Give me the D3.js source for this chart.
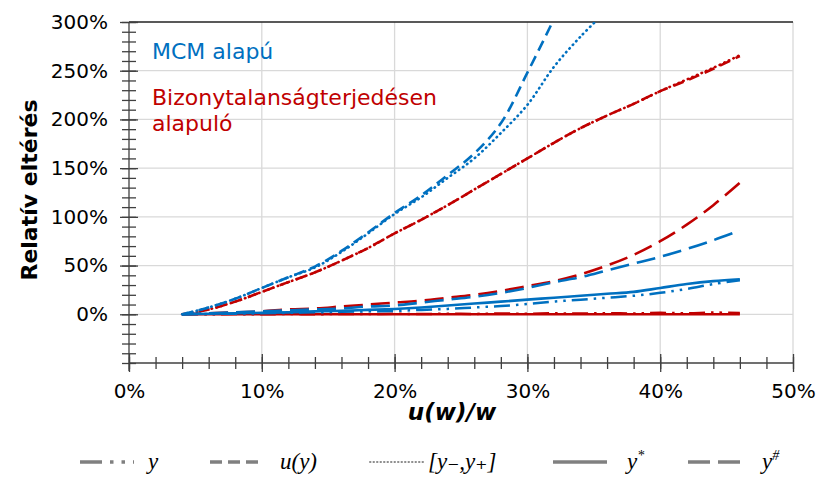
<!DOCTYPE html>
<html>
<head>
<meta charset="utf-8">
<title>Relatív eltérés</title>
<script src="https://cdn.jsdelivr.net/npm/d3@7"></script>
<style>
  body { margin: 0; background: #fff; }
  text { font-family: "DejaVu Sans", Verdana, sans-serif; }
  .tick text { font-size: 20px; fill: #000; }
  .math { font-family: "Liberation Serif", "DejaVu Serif", serif; font-style: italic; font-size: 23px; }
</style>
</head>
<body>
<script>
// u(w)/w in percent
var uw = [4,6,8,10,12,14,16,18,20,22,24,26,28,30,32,34,36,38,40,42,44,46];

// MCM alapú (blue)
var mcmY    = [0,0.3,0.6,1,1.5,2,2.5,3,3.5,4.5,5.5,7,8.5,10.5,13,15,17,19,22,26,31,35];
var mcmU    = [0,7,16,27,38,49,65,84,104,122,143,165,196,248,303];
var mcmInt  = [0,7,16,27,38,48,64,83,103,120,140,160,186,215,254,285,312];
var mcmStar = [0,0.5,1,1.5,2,3,3.5,4.5,5.5,7,9,11,13,15,17,19,21,23,27,31,34,36];
var mcmHash = [0,1,2,3,4,5,6,8,9,12,15,18,22,27,33,38,45,52,59,67,76,86];

// Bizonytalanságterjedésen alapuló (red)
var propY    = [0,0,0.2,0,0.3,0,0.4,0.2,0.5,0.3,0.6,0.4,0.8,0.5,1,0.7,1.2,0.9,1.5,1,1.8,1.2];
var propU    = [0,5,13,23,33,43,55,68,83,97,112,128,144,160,176,191,204,216,229,240,252,265];
var propInt  = [0,5,13,23,33,43,55,68,83,97,112,128,144,160,176,191,204,216,229,241,253,266];
var propStar = [0,0,0,0,0,0,0,0,0,0,0,0,0,0,0,0,0,0,0,0,0,0];
var propHash = [0,1,2,3,5,6,8,10,12,14,17,20,24,29,34,41,50,61,75,92,112,135];

var xTicks = [0,10,20,30,40,50];
var yTicks = [0,50,100,150,200,250,300];

var width = 820, height = 484;
var blue = "#0070c0", red = "#c00000";

var svg = d3.select("body").append("svg")
    .attr("width", width)
    .attr("height", height);

var x = d3.scaleLinear().domain([0,50]).range([129,793]);
var y = d3.scaleLinear().domain([-50,300]).range([363,22]);

// grid
svg.append("g").selectAll("line").data(xTicks.slice(1))
  .enter().append("line")
    .attr("x1", d => x(d)).attr("x2", d => x(d))
    .attr("y1", y(300)).attr("y2", y(-50))
    .attr("stroke", "#d9d9d9").attr("stroke-width", 1.3);
svg.append("g").selectAll("line").data(yTicks.slice(0,-1))
  .enter().append("line")
    .attr("x1", x(0)).attr("x2", x(50))
    .attr("y1", d => y(d)).attr("y2", d => y(d))
    .attr("stroke", "#d9d9d9").attr("stroke-width", 1.3);
// top border
svg.append("line")
    .attr("x1", x(0)).attr("x2", x(50))
    .attr("y1", y(300)).attr("y2", y(300))
    .attr("stroke", "#222").attr("stroke-width", 1.3);

// y axis
var yAxis = svg.append("g")
    .attr("transform", "translate(" + x(0) + ",0)")
    .call(d3.axisLeft(y).tickValues(yTicks).tickFormat(d => d + "%").tickSize(9).tickPadding(12));
yAxis.selectAll(".tick line").attr("x2", -9).attr("x1", 9);
svg.append("g")
    .attr("transform", "translate(" + x(0) + ",0)")
    .call(d3.axisLeft(y).tickValues(d3.range(-50, 301, 10)).tickFormat("").tickSize(7))
    .call(g => g.selectAll(".tick line").attr("x2", -7).attr("x1", 7))
    .call(g => g.select(".domain").remove());
yAxis.select(".domain").attr("d", "M0," + y(300) + "V" + (y(-50) + 8));

// x axis
var xAxis = svg.append("g")
    .attr("transform", "translate(0," + y(-50) + ")")
    .call(d3.axisBottom(x).tickValues(xTicks).tickFormat(d => d + "%").tickSize(9).tickPadding(12));
xAxis.selectAll(".tick line").attr("y1", -9).attr("y2", 9);
svg.append("g")
    .attr("transform", "translate(0," + y(-50) + ")")
    .call(d3.axisBottom(x).tickValues(d3.range(0, 51, 2)).tickFormat("").tickSize(6))
    .call(g => g.selectAll(".tick line").attr("y1", -6).attr("y2", 6))
    .call(g => g.select(".domain").remove());
xAxis.select(".domain").attr("d", "M" + x(0) + ",0H" + x(50));

svg.selectAll(".domain, .tick line").attr("stroke", "#404040").attr("stroke-width", 1.3);

// titles
svg.append("text")
    .attr("transform", "translate(37,190) rotate(-90)")
    .attr("text-anchor", "middle")
    .attr("font-weight", "bold").attr("font-size", 22)
    .text("Relatív eltérés");
svg.append("text")
    .attr("x", 452).attr("y", 420)
    .attr("text-anchor", "middle")
    .attr("font-weight", "bold").attr("font-style", "italic").attr("font-size", 23)
    .text("u(w)/w");

// annotations
svg.append("text").attr("x", 152).attr("y", 59)
    .attr("fill", blue).attr("font-size", 22).text("MCM alapú");
svg.append("text").attr("x", 152).attr("y", 105)
    .attr("fill", red).attr("font-size", 22).text("Bizonytalanságterjedésen");
svg.append("text").attr("x", 152).attr("y", 131)
    .attr("fill", red).attr("font-size", 22).text("alapuló");

// series
var styles = {
  y:    { dash: "16,6,2.5,6,2.5,6", cap: "butt", w: 2.5 },
  u:    { dash: "11,6", cap: "butt", w: 2.6 },
  int:  { dash: "0.5,4.5", cap: "round", w: 2.6 },
  star: { dash: null, cap: "butt", w: 2.6 },
  hash: { dash: "19,8", cap: "butt", w: 2.6 }
};

var series = [
  { vals: propStar, color: red,  st: "star" },
  { vals: propY,    color: red,  st: "y" },
  { vals: propHash, color: red,  st: "hash" },
  { vals: propU,    color: red,  st: "u" },
  { vals: propInt,  color: red,  st: "int" },
  { vals: mcmY,     color: blue, st: "y" },
  { vals: mcmStar,  color: blue, st: "star" },
  { vals: mcmHash,  color: blue, st: "hash" },
  { vals: mcmU,     color: blue, st: "u" },
  { vals: mcmInt,   color: blue, st: "int" }
];

svg.append("clipPath").attr("id", "plot")
  .append("rect")
    .attr("x", x(0)).attr("y", y(300))
    .attr("width", x(50) - x(0)).attr("height", y(-50) - y(300));

var line = d3.line()
    .x(d => x(d[0])).y(d => y(d[1]))
    .curve(d3.curveCatmullRom.alpha(0.5));

svg.append("g").attr("clip-path", "url(#plot)")
  .selectAll("path").data(series)
  .enter().append("path")
    .attr("d", s => line(s.vals.map((v, i) => [uw[i], v])))
    .attr("fill", "none")
    .attr("stroke", s => s.color)
    .attr("stroke-width", s => styles[s.st].w)
    .attr("stroke-dasharray", s => styles[s.st].dash)
    .attr("stroke-linecap", s => styles[s.st].cap);

// legend
var legend = [
  { st: "y",    x: 80,  label: "y" },
  { st: "u",    x: 210, label: "u(y)" },
  { st: "int",  x: 370, label: "[y\u208B,y\u208A]" },
  { st: "star", x: 553, label: "y*" },
  { st: "hash", x: 688, label: "y#" }
];
var lg = svg.append("g").selectAll("g").data(legend).enter().append("g")
    .attr("transform", d => "translate(" + d.x + ",462)");
lg.append("line")
    .attr("x1", 0).attr("x2", 54).attr("y1", 0).attr("y2", 0)
    .attr("stroke", d => d.st === "int" ? "#8c8c8c" : "#808080")
    .attr("stroke-width", d => d.st === "int" ? 2 : 3.5)
    .attr("stroke-dasharray", d => d.st === "y" ? "22,8,3.5,8,3.5,8" : d.st === "u" ? "12,6" : d.st === "int" ? "0.5,3" : d.st === "hash" ? "22,8" : null)
    .attr("stroke-linecap", d => styles[d.st].cap);
lg.append("text")
    .attr("class", "math")
    .attr("x", d => d.st === "int" ? 58 : d.st === "star" || d.st === "hash" ? 74 : d.st === "u" ? 70 : 68)
    .attr("y", 7)
    .each(function(d) {
      var t = d3.select(this);
      if (d.st === "star" || d.st === "hash") {
        t.text("y");
        t.append("tspan").attr("dy", -9).attr("font-size", 14).text(d.st === "star" ? "*" : "#");
      } else {
        t.text(d.label);
      }
    });
</script>
</body>
</html>
